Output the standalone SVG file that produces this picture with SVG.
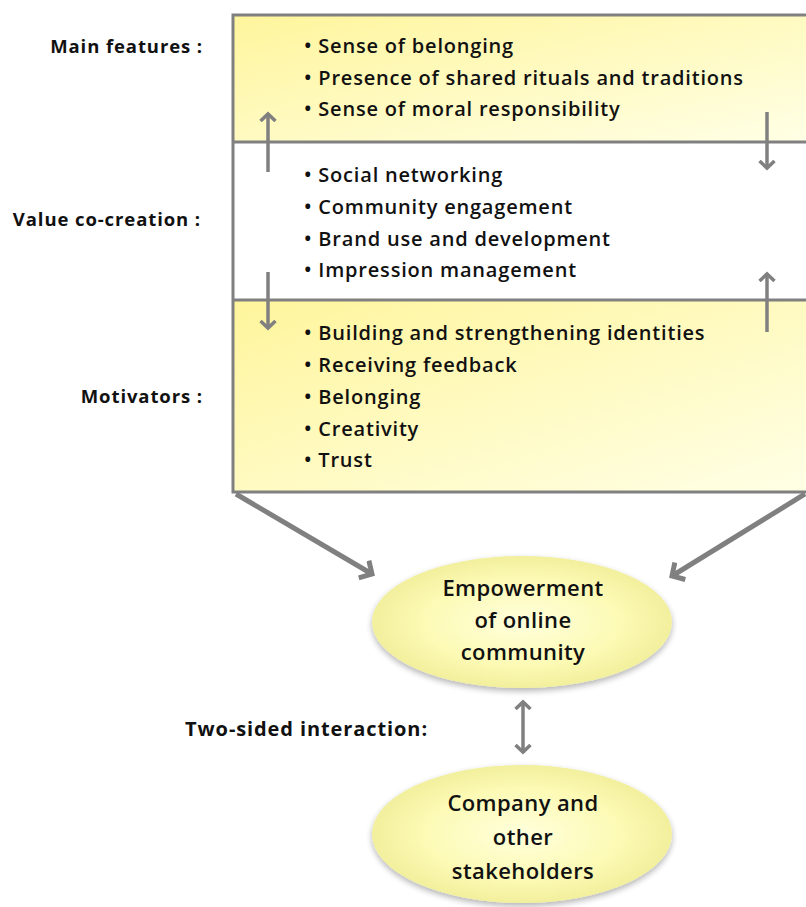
<svg xmlns="http://www.w3.org/2000/svg" width="806" height="907" viewBox="0 0 806 907">
  <defs>
    <linearGradient id="band" x1="0" y1="0" x2="1" y2="1">
      <stop offset="0" stop-color="#fff59c"/>
      <stop offset="1" stop-color="#ffffe6"/>
    </linearGradient>
    <radialGradient id="oval" cx="0.5" cy="0.5" r="0.55">
      <stop offset="0" stop-color="#ffffdc"/>
      <stop offset="0.6" stop-color="#fcfab4"/>
      <stop offset="1" stop-color="#efec96"/>
    </radialGradient>
    <filter id="shadow" x="-10%" y="-10%" width="120%" height="130%">
      <feGaussianBlur in="SourceAlpha" stdDeviation="3"/>
      <feOffset dy="3"/>
      <feComponentTransfer><feFuncA type="linear" slope="0.3"/></feComponentTransfer>
      <feMerge><feMergeNode/><feMergeNode in="SourceGraphic"/></feMerge>
    </filter>
    <marker id="head" viewBox="0 0 14 18" refX="8" refY="9" markerWidth="14" markerHeight="18" markerUnits="userSpaceOnUse" orient="auto-start-reverse">
      <path d="M1,1.5 L8,9 L1,16.5" fill="none" stroke="#808080" stroke-width="3.5"/>
    </marker>
    <marker id="bighead" viewBox="0 0 18 24" refX="11" refY="12" markerWidth="18" markerHeight="24" markerUnits="userSpaceOnUse" orient="auto-start-reverse">
      <path d="M1.5,2 L11,12 L1.5,22" fill="none" stroke="#808080" stroke-width="5"/>
    </marker>
  </defs>
  <style>
    text { font-family: "Open Sans", "Liberation Sans", sans-serif; fill: #111; }
    .item { font-size: 20px; font-weight: 600; letter-spacing: 0.8px; }
    .label { font-size: 18.5px; font-weight: 700; letter-spacing: 0.9px; text-anchor: end; }
    .oval-text { font-size: 22px; font-weight: 600; letter-spacing: 0.4px; text-anchor: middle; }
    .frame { stroke: #808080; stroke-width: 3; }
    .conn { stroke: #808080; stroke-width: 3.5; fill: none; }
    .thick { stroke: #808080; stroke-width: 5; fill: none; }
  </style>

  <rect width="806" height="907" fill="#ffffff"/>

  <!-- stacked panel: features, co-creation, motivators -->
  <g id="panel">
    <rect x="233" y="15" width="580" height="127" fill="url(#band)"/>
    <rect x="233" y="142" width="580" height="158" fill="#ffffff"/>
    <rect x="233" y="300" width="580" height="192" fill="url(#band)"/>
    <path class="frame" fill="none" d="M810,15 H233 V492 H810"/>
    <line class="frame" x1="233" y1="142" x2="810" y2="142"/>
    <line class="frame" x1="233" y1="300" x2="810" y2="300"/>
  </g>

  <g id="main-features">
    <text class="label" x="203" y="53">Main features :</text>
    <text class="item" x="304" y="53">• Sense of belonging</text>
    <text class="item" x="304" y="85">• Presence of shared rituals and traditions</text>
    <text class="item" x="304" y="116">• Sense of moral responsibility</text>
  </g>

  <g id="value-co-creation">
    <text class="label" x="201" y="226">Value co-creation :</text>
    <text class="item" x="304" y="182">• Social networking</text>
    <text class="item" x="304" y="214">• Community engagement</text>
    <text class="item" x="304" y="246">• Brand use and development</text>
    <text class="item" x="304" y="277">• Impression management</text>
  </g>

  <g id="motivators">
    <text class="label" x="203" y="403">Motivators :</text>
    <text class="item" x="304" y="340">• Building and strengthening identities</text>
    <text class="item" x="304" y="372">• Receiving feedback</text>
    <text class="item" x="304" y="404">• Belonging</text>
    <text class="item" x="304" y="436">• Creativity</text>
    <text class="item" x="304" y="467">• Trust</text>
  </g>

  <g id="empowerment">
    <ellipse cx="522" cy="622" rx="150" ry="66" fill="url(#oval)" filter="url(#shadow)"/>
    <text class="oval-text" x="523" y="596">Empowerment</text>
    <text class="oval-text" x="523" y="628">of online</text>
    <text class="oval-text" x="523" y="660">community</text>
  </g>

  <g id="stakeholders">
    <ellipse cx="522" cy="834" rx="150" ry="69" fill="url(#oval)" filter="url(#shadow)"/>
    <text class="oval-text" x="523" y="811">Company and</text>
    <text class="oval-text" x="523" y="845">other</text>
    <text class="oval-text" x="523" y="879">stakeholders</text>
  </g>

  <g id="interaction-label">
    <text class="label" x="428" y="736" style="font-size:20px;letter-spacing:0.9px">Two-sided interaction:</text>
  </g>

  <g id="connectors">
    <line class="conn" x1="268" y1="172" x2="268" y2="114" marker-end="url(#head)"/>
    <line class="conn" x1="767" y1="112" x2="767" y2="168" marker-end="url(#head)"/>
    <line class="conn" x1="268" y1="272" x2="268" y2="328" marker-end="url(#head)"/>
    <line class="conn" x1="767" y1="332" x2="767" y2="274" marker-end="url(#head)"/>
    <line class="thick" x1="236" y1="494" x2="372" y2="574" marker-end="url(#bighead)"/>
    <line class="thick" x1="805" y1="494" x2="672" y2="576" marker-end="url(#bighead)"/>
    <line class="conn" x1="523" y1="702" x2="523" y2="752" marker-start="url(#head)" marker-end="url(#head)"/>
  </g>
</svg>
